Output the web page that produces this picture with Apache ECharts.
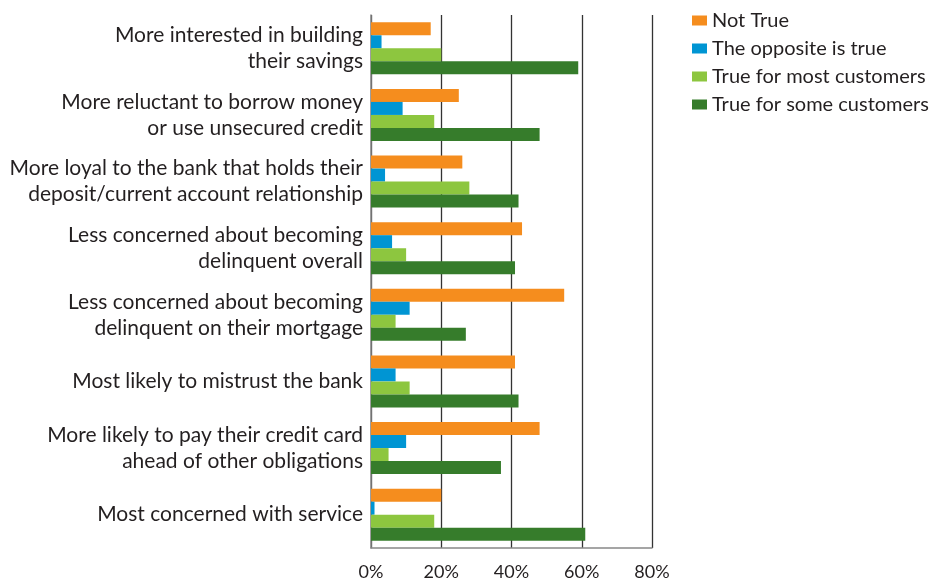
<!DOCTYPE html>
<html>
<head>
<meta charset="utf-8">
<script src="https://cdn.jsdelivr.net/npm/echarts@6/dist/echarts.min.js"></script>
<style>
  html, body { margin: 0; padding: 0; background: #fff; }
  #chart { width: 935px; height: 581px; }
</style>
</head>
<body>
<div id="chart"></div>
<script>
// Survey statements (top to bottom)
const categories = [
  'More interested in building\ntheir savings',
  'More reluctant to borrow money\nor use unsecured credit',
  'More loyal to the bank that holds their\ndeposit/current account relationship',
  'Less concerned about becoming\ndelinquent overall',
  'Less concerned about becoming\ndelinquent on their mortgage',
  'Most likely to mistrust the bank',
  'More likely to pay their credit card\nahead of other obligations',
  'Most concerned with service'
];

// Share of respondents, in percent
const notTrue      = [17, 25, 26, 43, 55, 41, 48, 20];
const oppositeTrue = [3, 9, 4, 6, 11, 7, 10, 1];
const trueMost     = [20, 18, 28, 10, 7, 11, 5, 18];
const trueSome     = [59, 48, 42, 41, 27, 42, 37, 61];

const seriesNames = ['Not True', 'The opposite is true', 'True for most customers', 'True for some customers'];
const seriesColors = ['#F58D1E', '#0095D3', '#8DC63F', '#367C2B'];
const seriesData = [notTrue, oppositeTrue, trueMost, trueSome];

const fontFamily = 'Lato, "DejaVu Sans", sans-serif';
const textColor = '#231f20';

const chart = echarts.init(document.getElementById('chart'), null, { renderer: 'canvas' });

chart.setOption({
  animation: false,
  textStyle: { fontFamily: fontFamily },
  grid: { left: 371, right: 283, top: 15, bottom: 33, containLabel: false },
  legend: {
    orient: 'vertical',
    left: 687,
    top: 4,
    itemWidth: 15,
    itemHeight: 10,
    itemGap: 5,
    icon: 'rect',
    textStyle: { fontSize: 20, lineHeight: 23, color: textColor, fontFamily: fontFamily, padding: [0, 0, 0, 0] },
    data: seriesNames
  },
  xAxis: {
    type: 'value',
    min: 0,
    max: 80,
    interval: 20,
    axisLine: { show: true, lineStyle: { color: '#888', width: 1.5 } },
    axisTick: { show: false },
    axisLabel: { formatter: '{value}%', fontSize: 18, color: textColor, margin: 15, fontFamily: fontFamily },
    splitLine: { show: true, lineStyle: { color: '#333', width: 1.3 } }
  },
  yAxis: {
    type: 'category',
    inverse: true,
    data: categories,
    axisLine: { show: true, lineStyle: { color: '#888', width: 1.5 } },
    axisTick: { show: false },
    axisLabel: { fontSize: 21, color: textColor, lineHeight: 26, margin: 8, align: 'right', fontFamily: fontFamily }
  },
  series: seriesData.map((d, i) => ({
    name: seriesNames[i],
    type: 'bar',
    data: d,
    barWidth: 13,
    barGap: '0%',
    itemStyle: { color: seriesColors[i] }
  }))
});
</script>
</body>
</html>
